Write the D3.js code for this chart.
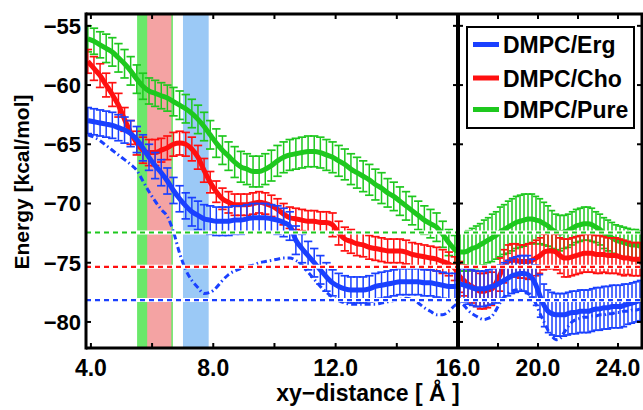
<!DOCTYPE html>
<html><head><meta charset="utf-8">
<script src="https://cdn.jsdelivr.net/npm/d3@7"></script>
<style>
body{margin:0;background:#fff}
svg{display:block}
text{font-family:"Liberation Sans",Arial,Helvetica,sans-serif;font-weight:bold;fill:#000}
</style>
</head><body>
<svg id="c" width="643" height="410"></svg>
<script>
// ---------- DATA ----------
const xs = [3.9,4.1,4.3,4.5,4.7,4.9,5.1,5.3,5.5,5.7,5.9,6.1,6.3,6.5,6.7,6.9,7.1,7.3,7.5,7.7,
7.9,8.1,8.3,8.5,8.7,8.9,9.1,9.3,9.5,9.7,9.9,10.1,10.3,10.5,10.7,10.9,11.1,11.3,11.5,11.7,
11.9,12.1,12.3,12.5,12.7,12.9,13.1,13.3,13.5,13.7,13.9,14.1,14.3,14.5,14.7,14.9,15.1,15.3,15.5,15.7,
15.9,16.1,16.3,16.5,16.7,16.9,17.1,17.3,17.5,17.7,17.9,18.1,18.3,18.5,18.7,18.9,19.1,19.3,19.5,19.7,
19.9,20.1,20.3,20.5,20.7,20.9,21.1,21.3,21.5,21.7,21.9,22.1,22.3,22.5,22.7,22.9,23.1,23.3,23.5,23.7,
23.9,24.1,24.3,24.5,24.7,24.9,25.1];

const pureVals = [-56.1,-56.3,-56.6,-56.9,-57.2,-57.7,-58.2,-58.8,-59.5,-60.1,
-60.5,-60.7,-60.9,-61.1,-61.4,-61.7,-62.0,-62.4,-62.9,-63.5,
-64.2,-64.9,-65.5,-66.0,-66.5,-66.9,-67.1,-67.3,-67.3,-67.1,
-66.8,-66.4,-66.1,-65.9,-65.8,-65.7,-65.6,-65.6,-65.7,-65.9,
-66.1,-66.4,-66.7,-67.1,-67.4,-67.7,-68.0,-68.4,-68.7,-69.1,
-69.4,-69.8,-70.2,-70.6,-71.0,-71.4,-71.7,-72.0,-72.6,-73.3,
-73.9,
-74.1,-74.1,-74.0,-73.8,-73.7,-73.5,-73.3,-73.1,-72.9,-72.7,
-72.4,-72.2,-72.0,-71.8,-71.6,-71.5,-71.4,-71.3,-71.3,-71.4,
-71.5,-71.7,-71.9,-72.2,-72.4,-72.5,-72.4,-72.3,-72.1,-71.9,
-71.8,-71.7,-71.7,-71.8,-72.0,-72.2,-72.5,-72.7,-72.9,-73.1,
-73.2,-73.3,-73.4,-73.5,-73.5,-73.6];
const pureErr = [1.1,1.1,1.1,1.2,1.2,1.2,1.2,1.2,1.2,1.1,
1.1,1.1,1.1,1.1,1.2,1.2,1.2,1.2,1.2,1.2,
1.2,1.2,1.2,1.2,1.3,1.3,1.3,1.3,1.3,1.3,
1.3,1.3,1.3,1.3,1.3,1.3,1.3,1.3,1.3,1.3,
1.3,1.3,1.3,1.3,1.3,1.3,1.3,1.3,1.3,1.2,
1.2,1.2,1.2,1.2,1.2,1.2,1.2,1.2,1.1,1.1,
1.2,
1.6,1.6,1.7,1.7,1.8,1.8,1.9,1.9,2.0,2.0,
2.1,2.1,2.2,2.2,2.2,2.2,2.2,2.1,2.1,2.0,
1.9,1.8,1.7,1.6,1.5,1.5,1.4,1.4,1.4,1.4,
1.4,1.4,1.4,1.4,1.3,1.3,1.3,1.3,1.3,1.3,
1.3,1.3,1.3,1.3,1.3,1.3];

const choVals = [-58.0,-58.6,-59.2,-60.0,-60.8,-61.7,-62.9,-64.0,-64.9,-65.5,
-65.7,-65.7,-65.5,-65.3,-65.0,-64.9,-65.0,-65.4,-66.1,-67.2,
-68.2,-69.0,-69.6,-69.9,-70.1,-70.1,-70.1,-70.0,-69.9,-70.0,
-70.2,-70.5,-70.9,-71.2,-71.3,-71.4,-71.5,-71.5,-71.6,-71.6,
-71.8,-72.5,-73.0,-73.2,-73.4,-73.5,-73.7,-73.8,-73.9,-74.0,
-74.0,-74.0,-74.1,-74.3,-74.4,-74.5,-74.6,-74.7,-74.9,-75.1,
-75.5,
-76.2,-76.5,-76.8,-77.0,-77.2,-77.4,-77.4,-77.3,-77.2,-76.7,
-76.0,-75.3,-74.9,-74.8,-74.8,-74.9,-74.9,-74.9,-74.8,-74.6,
-74.4,-74.1,-74.0,-74.0,-74.1,-74.4,-74.6,-74.6,-74.5,-74.4,
-74.3,-74.2,-74.2,-74.2,-74.3,-74.3,-74.3,-74.4,-74.4,-74.4,
-74.5,-74.6,-74.6,-74.7,-74.7,-74.7];
const choErr = [1.0,1.0,1.0,1.0,1.0,1.0,1.0,1.0,1.0,1.1,
1.1,1.1,1.0,1.0,1.0,1.0,1.0,1.0,1.0,1.0,
0.9,0.9,0.9,0.9,0.9,0.9,0.9,0.9,0.9,0.9,
0.9,0.9,0.9,0.9,0.9,0.9,0.9,0.9,0.9,0.9,
1.0,1.0,1.0,1.0,1.0,1.0,1.0,1.0,1.0,1.0,
1.0,1.0,1.0,1.0,1.0,1.0,1.0,1.0,1.0,1.0,
1.0,
1.3,1.3,1.4,1.4,1.5,1.5,1.5,1.5,1.4,1.4,
1.4,1.4,1.4,1.4,1.4,1.4,1.4,1.5,1.5,1.5,
1.5,1.5,1.5,1.5,1.5,1.5,1.6,1.6,1.6,1.6,
1.6,1.6,1.6,1.6,1.6,1.6,1.5,1.5,1.5,1.5,
1.5,1.5,1.4,1.4,1.4,1.4];

const ergVals = [-63.0,-63.1,-63.2,-63.3,-63.4,-63.6,-63.8,-64.1,-64.6,-65.3,
-66.1,-66.8,-67.4,-68.1,-68.9,-69.6,-70.2,-70.7,-71.0,-71.3,
-71.4,-71.5,-71.5,-71.5,-71.4,-71.4,-71.3,-71.2,-71.2,-71.2,
-71.3,-71.4,-71.6,-71.9,-73.1,-73.8,-74.4,-75.0,-75.6,-76.2,
-76.7,-77.0,-77.2,-77.3,-77.3,-77.3,-77.2,-77.0,-76.9,-76.8,
-76.7,-76.6,-76.6,-76.6,-76.6,-76.7,-76.7,-76.8,-76.9,-77.0,
-77.0,
-76.8,-76.9,-77.0,-77.1,-77.2,-77.2,-77.2,-77.1,-77.0,-76.9,
-76.7,-76.5,-76.3,-76.1,-76.0,-75.9,-75.9,-76.0,-76.3,-76.9,
-77.8,-78.6,-79.1,-79.3,-79.4,-79.4,-79.4,-79.3,-79.2,-79.2,
-79.1,-79.1,-79.1,-79.0,-78.9,-78.9,-78.8,-78.8,-78.7,-78.7,
-78.7,-78.6,-78.5,-78.4,-78.3,-78.2];
const ergErr = [1.1,1.1,1.1,1.1,1.1,1.1,1.1,1.1,1.1,1.1,
1.1,1.1,1.1,1.1,1.1,1.1,1.1,1.2,1.2,1.2,
1.2,1.2,1.2,1.2,1.2,1.2,1.2,1.2,1.2,1.2,
1.2,1.2,1.2,1.2,1.2,1.2,1.2,1.2,1.2,1.2,
1.1,1.1,1.1,1.1,1.1,1.1,1.1,1.1,1.1,1.1,
1.1,1.1,1.1,1.1,1.1,1.1,1.1,1.1,1.1,1.1,
1.1,
1.4,1.4,1.5,1.5,1.5,1.5,1.5,1.5,1.5,1.5,
1.5,1.5,1.5,1.5,1.5,1.5,1.5,1.6,1.6,1.7,
1.8,1.8,1.8,1.8,1.8,1.8,1.8,1.8,1.8,1.8,
1.8,1.8,1.8,1.8,1.8,1.8,1.8,1.8,1.8,1.8,
1.8,1.8,1.7,1.7,1.7,1.7];

const ergDashDot = [-64.2,-64.4,-64.7,-65.1,-65.5,-65.9,-66.3,-66.7,-67.2,-68.1,
-69.0,-69.8,-70.5,-71.1,-72.4,-74.2,-75.6,-76.5,-77.1,-77.6,
-77.5,-77.1,-76.5,-76.0,-75.7,-75.5,-75.3,-75.2,-75.0,-74.9,
-74.8,-74.7,-74.6,-74.6,-74.8,-75.2,-75.8,-76.4,-77.0,-77.5,
-77.9,-78.2,-78.4,-78.5,-78.5,-78.5,-78.5,-78.5,-78.4,-78.3,
-78.2,-78.1,-78.0,-78.1,-78.4,-78.8,-79.1,-79.4,-79.4,-79.1,
-78.6,
-78.4,-78.6,-79.0,-79.3,-79.5,-79.7,-79.8,-79.7,-79.5,-79.0,
-78.4,-77.9,-77.6,-77.4,-77.3,-77.3,-77.4,-77.6,-77.9,-78.5,
-79.3,-80.0,-80.7,-81.2,-81.5,-81.4,-80.9,-80.4,-80.0,-79.8,
-79.7,-79.6,-79.6,-79.5,-79.5,-79.4,-79.4,-79.3,-79.3,-79.2,
-79.2,-79.1,-79.1,-79.0,-79.0,-78.9];

const seriesNames = ["DMPC/Erg","DMPC/Cho","DMPC/Pure"];
const seriesColors = ["#1a40ff","#ff1010","#1ec81e"];
const refLevels = [-78.15,-75.35,-72.45];        // Erg, Cho, Pure
const bandStart = [5.51, 5.84, 7.01];
const bandEnd   = [6.68, 6.63, 7.85];
const bandColors = ["#6ae86a","#f4a3a3","#9bc9f6"];
const xTickVals = [4,6,8,10,12,14,16,18,20,22,24];
const xTickLabels = [4,8,12,16,20,24];
const yTickVals = [-55,-60,-65,-70,-75,-80];
const splitX = 16;

// ---------- LAYOUT ----------
const L=86, R=642, T=14, B=348;
const svg = d3.select("#c");
const x = d3.scaleLinear().domain([3.84, splitX, 25.25]).range([L, 458, 643]);
const y = d3.scaleLinear().domain([-82.2, -54]).range([B, T]);

svg.append("defs").append("clipPath").attr("id","clip")
  .append("rect").attr("x",L).attr("y",T).attr("width",643-L).attr("height",B-T);
const plot = svg.append("g").attr("clip-path","url(#clip)");

// bands
plot.selectAll("rect.band").data(bandStart).join("rect").attr("class","band")
  .attr("x",(d)=>x(d)).attr("width",(d,i)=>x(bandEnd[i])-x(d))
  .attr("y",T).attr("height",B-T).attr("fill",(d,i)=>bandColors[i]);

// series
const dataSets = [
  {vals: ergVals, err: ergErr},
  {vals: choVals, err: choErr},
  {vals: pureVals, err: pureErr}
];
const line = d3.line().x(d=>x(d[0])).y(d=>y(d[1])).curve(d3.curveMonotoneX);
const drawOrder = [2,1,0];
drawOrder.forEach(si=>{
  const s = dataSets[si], col = seriesColors[si];
  const g = plot.append("g");
  xs.forEach((xv,i)=>{
    const px = x(xv), cw = xv < splitX ? 4.2 : 3.2;
    const y1 = y(s.vals[i]+s.err[i]), y2 = y(s.vals[i]-s.err[i]);
    g.append("line").attr("x1",px).attr("x2",px).attr("y1",y1).attr("y2",y2)
      .attr("stroke",col).attr("stroke-width",1.5);
    g.append("line").attr("x1",px-cw).attr("x2",px+cw).attr("y1",y1).attr("y2",y1)
      .attr("stroke",col).attr("stroke-width",1.7);
    g.append("line").attr("x1",px-cw).attr("x2",px+cw).attr("y1",y2).attr("y2",y2)
      .attr("stroke",col).attr("stroke-width",1.7);
  });
  g.append("path").datum(xs.map((xv,i)=>[xv,s.vals[i]]))
    .attr("d",line).attr("fill","none").attr("stroke",col)
    .attr("stroke-width",5).attr("stroke-linejoin","round");
});
// dash-dot Erg
plot.append("path").datum(xs.map((xv,i)=>[xv,ergDashDot[i]]))
  .attr("d",line).attr("fill","none").attr("stroke",seriesColors[0])
  .attr("stroke-width",3).attr("stroke-dasharray","6,3,1.5,3");

// reference dashed lines
refLevels.forEach((v,i)=>{
  plot.append("line").attr("x1",L).attr("x2",643).attr("y1",y(v)).attr("y2",y(v))
    .attr("stroke","#fff").attr("stroke-width",4);
  plot.append("line").attr("x1",L).attr("x2",643).attr("y1",y(v)).attr("y2",y(v))
    .attr("stroke",seriesColors[i]).attr("stroke-width",2.2).attr("stroke-dasharray","5,4");
});

// frame
const fr = svg.append("g").attr("stroke","#000").attr("fill","none");
fr.append("line").attr("x1",L).attr("x2",643).attr("y1",T).attr("y2",T).attr("stroke-width",3);
fr.append("line").attr("x1",L).attr("x2",643).attr("y1",B).attr("y2",B).attr("stroke-width",3);
fr.append("line").attr("x1",L).attr("x2",L).attr("y1",T-1.5).attr("y2",B+1.5).attr("stroke-width",3);
fr.append("line").attr("x1",R).attr("x2",R).attr("y1",T).attr("y2",B).attr("stroke-width",3);
fr.append("line").attr("x1",x(splitX)).attr("x2",x(splitX)).attr("y1",T).attr("y2",B).attr("stroke-width",4);

// ticks
xTickVals.forEach(v=>{
  const px = x(v);
  fr.append("line").attr("x1",px).attr("x2",px).attr("y1",B).attr("y2",B-5).attr("stroke-width",2);
  fr.append("line").attr("x1",px).attr("x2",px).attr("y1",T).attr("y2",T+5).attr("stroke-width",2);
});
yTickVals.forEach(v=>{
  const py = y(v);
  fr.append("line").attr("x1",L).attr("x2",L+5).attr("y1",py).attr("y2",py).attr("stroke-width",2);
  fr.append("line").attr("x1",x(splitX)-5).attr("x2",x(splitX)+5).attr("y1",py).attr("y2",py).attr("stroke-width",2);
  fr.append("line").attr("x1",R-5).attr("x2",R+2).attr("y1",py).attr("y2",py).attr("stroke-width",2);
});

// tick labels
const fmtX = d3.format(".1f"), fmtY = d3.format("d");
svg.append("g").selectAll("text").data(xTickLabels).join("text")
  .attr("x",d=>x(d)).attr("y",376).attr("text-anchor","middle")
  .attr("font-size",23).text(d=>fmtX(d));
svg.append("g").selectAll("text").data(yTickVals).join("text")
  .attr("x",81).attr("y",d=>y(d)).attr("dy","0.36em").attr("text-anchor","end")
  .attr("font-size",22).text(d=>fmtY(d));

// axis titles
svg.append("text").attr("x",368).attr("y",401).attr("text-anchor","middle")
  .attr("font-size",23).text("xy\u2212distance [ \u00C5 ]");
svg.append("text").attr("transform","translate(29,182) rotate(-90)")
  .attr("text-anchor","middle").attr("font-size",21).text("Energy [kcal/mol]");

// legend
const lg = svg.append("g");
lg.append("rect").attr("x",467).attr("y",27).attr("width",167).attr("height",101)
  .attr("fill","#fff").attr("stroke","#000").attr("stroke-width",2);
const legY = [44.5,78,109.5];
seriesNames.forEach((n,i)=>{
  lg.append("line").attr("x1",473).attr("x2",499).attr("y1",legY[i]).attr("y2",legY[i])
    .attr("stroke",seriesColors[i]).attr("stroke-width",5);
  lg.append("text").attr("x",503).attr("y",legY[i]+8.5).attr("font-size",23).text(n);
});
</script>
</body></html>
